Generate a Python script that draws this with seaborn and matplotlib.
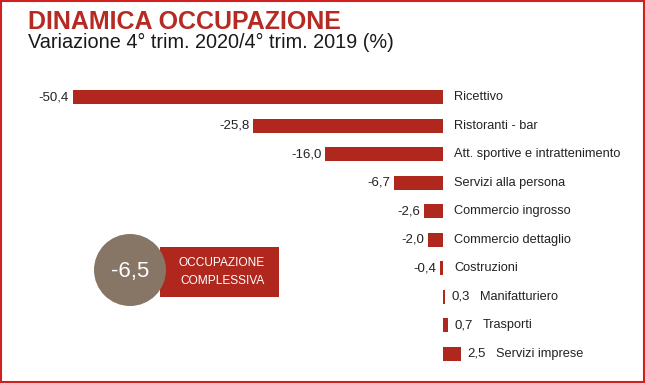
import matplotlib
matplotlib.use("Agg")
import matplotlib.pyplot as plt
from matplotlib.patches import Rectangle, Ellipse
import seaborn as sns
import pandas as pd

categories = ["Ricettivo", "Ristoranti - bar", "Att. sportive e intrattenimento",
              "Servizi alla persona", "Commercio ingrosso", "Commercio dettaglio",
              "Costruzioni", "Manifatturiero", "Trasporti", "Servizi imprese"]
values = [-50.4, -25.8, -16.0, -6.7, -2.6, -2.0, -0.4, 0.3, 0.7, 2.5]
total_value = -6.5
total_label = "OCCUPAZIONE\nCOMPLESSIVA"
title = "DINAMICA OCCUPAZIONE"
subtitle = "Variazione 4° trim. 2020/4° trim. 2019 (%)"

RED = "#b0271e"
GREY = "#877565"
BORDER = "#d02020"

sns.set_theme(style="white")
plt.rcParams["font.family"] = ["Liberation Sans", "DejaVu Sans"]

W, H = 645, 383
fig = plt.figure(figsize=(W / 100, H / 100), dpi=100)
ax = fig.add_axes([0, 0, 1, 1])

df = pd.DataFrame({"cat": categories, "val": values})
sns.barplot(data=df, x="val", y="cat", orient="h", color=RED, saturation=1,
            width=0.49, linewidth=0, ax=ax)

# scales: zero at x=443 px, 7.35 px per unit; rows at 97 px, 28.55 px apart
px_x = 7.35
x0 = 443
ax.set_xlim(-x0 / px_x, (W - x0) / px_x)
y0 = 97
py = 28.55
ax.set_ylim((H - y0) / py, -y0 / py)
ax.axis("off")

fmt = lambda v: f"{v:.1f}".replace(".", ",")
LBL = 9.2
for i, (c, v) in enumerate(zip(categories, values)):
    if v < 0:
        ax.annotate(fmt(v), (v, i), xytext=(-4, 0), textcoords="offset pixels",
                    ha="right", va="center", fontsize=LBL + 0.3, color="#222222")
        ax.annotate(c, (0, i), xytext=(11, 0), textcoords="offset pixels",
                    ha="left", va="center", fontsize=LBL, color="#222222")
    else:
        ax.annotate(fmt(v), (v, i), xytext=(6, 0), textcoords="offset pixels",
                    ha="left", va="center", fontsize=LBL + 0.3, color="#222222")
        ax.annotate(c, (v, i), xytext=(35, 0), textcoords="offset pixels",
                    ha="left", va="center", fontsize=LBL, color="#222222")

def fx(px):
    return px / W

def fy(py_):
    return 1 - py_ / H

fig.text(fx(28), fy(29), title, fontsize=18, fontweight="bold", color="#b52a22",
         ha="left", va="baseline")
fig.text(fx(28), fy(48), subtitle, fontsize=14.3, color="#1a1a1a",
         ha="left", va="baseline")

# total box
fig.patches.append(Rectangle((fx(160), fy(297)), fx(279) - fx(160), (297 - 247) / H,
                             transform=fig.transFigure, facecolor=RED,
                             edgecolor="none", zorder=1))
fig.patches.append(Ellipse((fx(130), fy(270)), 72 / W, 72 / H,
                           transform=fig.transFigure, facecolor=GREY,
                           edgecolor="none", zorder=2))
fig.text(fx(130), fy(272), fmt(total_value), fontsize=16, color="white",
         ha="center", va="center", zorder=3)
fig.text(fx(222), fy(272), total_label, fontsize=8.6, color="white",
         ha="center", va="center", linespacing=1.75, zorder=3)

# border
fig.patches.append(Rectangle((0.5 / W, 1.5 / H), (W - 2) / W, (H - 2.5) / H,
                             transform=fig.transFigure, facecolor="none",
                             edgecolor=BORDER, linewidth=1.5, zorder=5))

fig.savefig("out.png", dpi=100)
